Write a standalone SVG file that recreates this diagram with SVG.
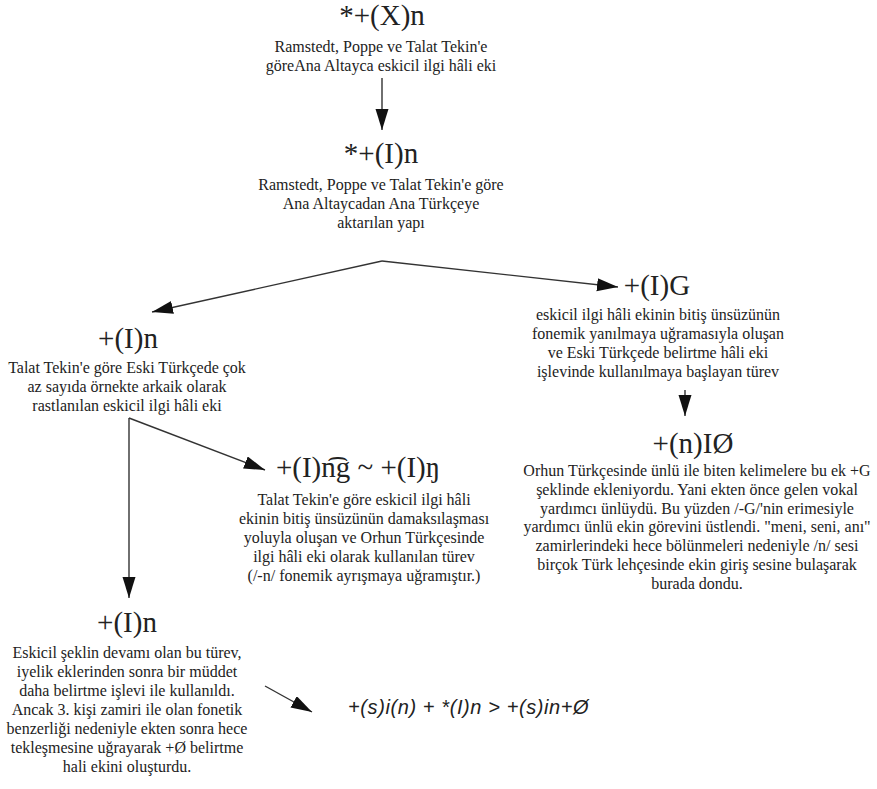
<svg xmlns="http://www.w3.org/2000/svg" width="877" height="789" viewBox="0 0 877 789">
<style>
.t{font-family:"Liberation Serif","Times New Roman",serif;font-size:29px;fill:#222;text-anchor:middle}
.b{font-family:"Liberation Serif","Times New Roman",serif;font-size:16px;fill:#222;text-anchor:middle}
.f{font-family:"Liberation Sans",Arial,sans-serif;font-size:20px;font-style:italic;letter-spacing:0.6px;fill:#222}
.c{stroke:#333;stroke-width:1.4;fill:none;marker-end:url(#ah)}
</style>
<defs>
<marker id="ah" markerUnits="userSpaceOnUse" markerWidth="22" markerHeight="14" refX="21" refY="6.5" orient="auto">
<path d="M0,0 L21,6.5 L0,13 z" fill="#111"/>
</marker>
</defs>
<rect width="877" height="789" fill="#fff"/>
<g id="connectors">
<path class="c" d="M382,78 L382,130"/>
<path class="c" d="M382,261 L152,312"/>
<path class="c" d="M382,261 L618,287"/>
<path class="c" d="M685,390 L685,416"/>
<path class="c" d="M129,418 L129,598"/>
<path class="c" d="M129,418 L265,470"/>
<path class="c" d="M265,686 L312,712"/>
</g>
<g id="node-xn">
<text class="t" x="382" y="25">*+(X)n</text>
<text class="b" x="381" y="52">Ramstedt, Poppe ve Talat Tekin'e</text>
<text class="b" x="381" y="71">göreAna Altayca eskicil ilgi hâli eki</text>
</g>
<g id="node-in-ana">
<text class="t" x="381" y="163">*+(I)n</text>
<text class="b" x="381" y="190">Ramstedt, Poppe ve Talat Tekin'e göre</text>
<text class="b" x="381" y="209">Ana Altaycadan Ana Türkçeye</text>
<text class="b" x="381" y="228">aktarılan yapı</text>
</g>
<g id="node-in-eski">
<text class="t" x="128" y="348">+(I)n</text>
<text class="b" x="127" y="373">Talat Tekin'e göre Eski Türkçede çok</text>
<text class="b" x="127" y="392">az sayıda örnekte arkaik olarak</text>
<text class="b" x="127" y="411">rastlanılan eskicil ilgi hâli eki</text>
</g>
<g id="node-ig">
<text class="t" x="657" y="295">+(I)G</text>
<text class="b" x="658" y="320">eskicil ilgi hâli ekinin bitiş ünsüzünün</text>
<text class="b" x="658" y="339">fonemik yanılmaya uğramasıyla oluşan</text>
<text class="b" x="658" y="358">ve Eski Türkçede belirtme hâli eki</text>
<text class="b" x="658" y="377">işlevinde kullanılmaya başlayan türev</text>
</g>
<g id="node-nio">
<text class="t" x="693" y="453">+(n)IØ</text>
<text class="b" x="697" y="476">Orhun Türkçesinde ünlü ile biten kelimelere bu ek +G</text>
<text class="b" x="697" y="495">şeklinde ekleniyordu. Yani ekten önce gelen vokal</text>
<text class="b" x="697" y="514">yardımcı ünlüydü. Bu yüzden /-G/'nin erimesiyle</text>
<text class="b" x="697" y="532">yardımcı ünlü ekin görevini üstlendi. "meni, seni, anı"</text>
<text class="b" x="697" y="551">zamirlerindeki hece bölünmeleri nedeniyle /n/ sesi</text>
<text class="b" x="697" y="570">birçok Türk lehçesinde ekin giriş sesine bulaşarak</text>
<text class="b" x="697" y="589">burada dondu.</text>
</g>
<g id="node-ing">
<text class="t" x="358" y="477">+(I)n͡g ~ +(I)ŋ</text>
<text class="b" x="364" y="505">Talat Tekin'e göre eskicil ilgi hâli</text>
<text class="b" x="364" y="524">ekinin bitiş ünsüzünün damaksılaşması</text>
<text class="b" x="364" y="543">yoluyla oluşan ve Orhun Türkçesinde</text>
<text class="b" x="364" y="562">ilgi hâli eki olarak kullanılan türev</text>
<text class="b" x="364" y="581">(/-n/ fonemik ayrışmaya uğramıştır.)</text>
</g>
<g id="node-in-belirtme">
<text class="t" x="127" y="632">+(I)n</text>
<text class="b" x="127" y="658">Eskicil şeklin devamı olan bu türev,</text>
<text class="b" x="127" y="677">iyelik eklerinden sonra bir müddet</text>
<text class="b" x="127" y="696">daha belirtme işlevi ile kullanıldı.</text>
<text class="b" x="127" y="715">Ancak 3. kişi zamiri ile olan fonetik</text>
<text class="b" x="127" y="734">benzerliği nedeniyle ekten sonra hece</text>
<text class="b" x="127" y="753">tekleşmesine uğrayarak +Ø belirtme</text>
<text class="b" x="127" y="772">hali ekini oluşturdu.</text>
</g>
<g id="node-formula">
<text class="f" x="348" y="714">+(s)i(n) + *(I)n &gt; +(s)in+Ø</text>
</g>
</svg>
